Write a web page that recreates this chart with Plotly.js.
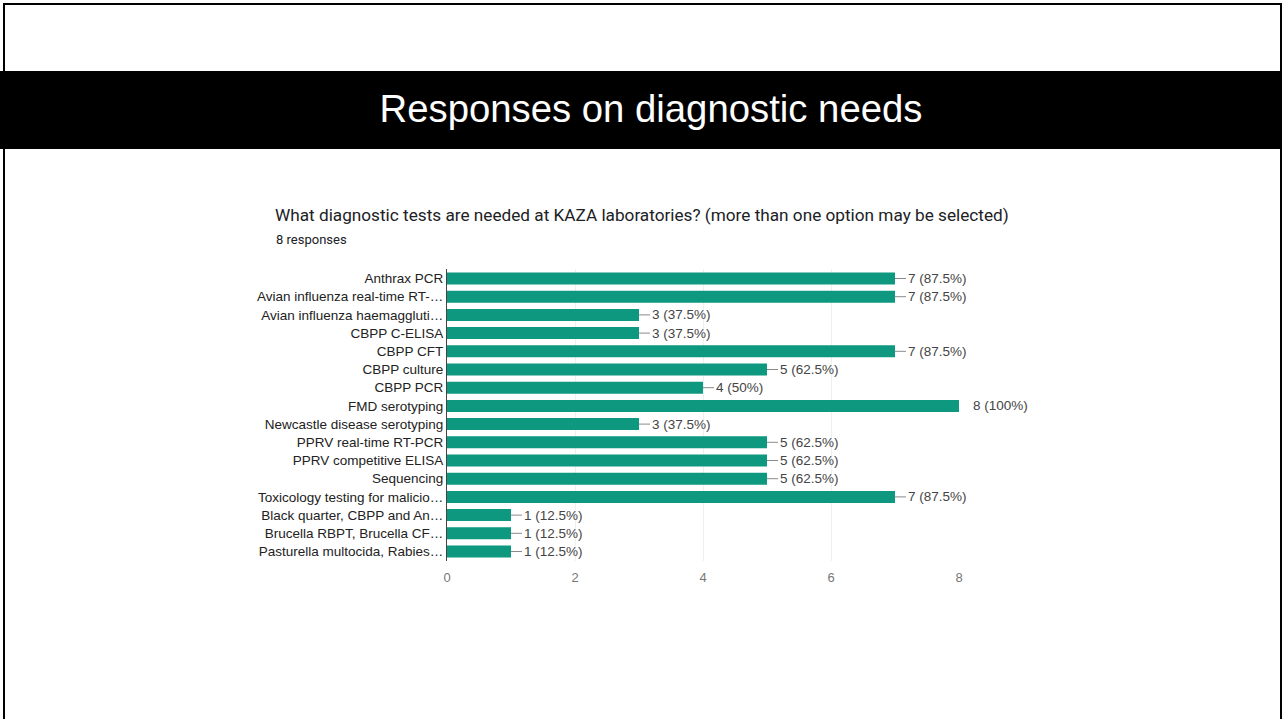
<!DOCTYPE html>
<html>
<head>
<meta charset="utf-8">
<script src="https://cdn.plot.ly/plotly-3.0.1.min.js"></script>
<style>
  html, body { margin: 0; padding: 0; background: #fff; width: 1282px; height: 719px; overflow: hidden; }
  #frame { position: absolute; left: 3px; top: 3px; width: 1275px; height: 800px; border: 2px solid #000; border-bottom: none; }
  #band { position: absolute; left: 0; top: 71px; width: 1282px; height: 78px; background: #000; color: #fff; box-sizing: border-box; padding-left: 20px;
          font-family: "Liberation Sans", Arial, sans-serif; font-size: 38.3px; text-align: center; line-height: 76px; }
  #chart { position: absolute; left: 0; top: 0; width: 1282px; height: 719px; }
</style>
</head>
<body>
<div id="frame"></div>
<div id="band">Responses on diagnostic needs</div>
<div id="chart"></div>
<script>
const categories = [
  "Anthrax PCR",
  "Avian influenza real-time RT-…",
  "Avian influenza haemaggluti…",
  "CBPP C-ELISA",
  "CBPP CFT",
  "CBPP culture",
  "CBPP PCR",
  "FMD serotyping",
  "Newcastle disease serotyping",
  "PPRV real-time RT-PCR",
  "PPRV competitive ELISA",
  "Sequencing",
  "Toxicology testing for malicio…",
  "Black quarter, CBPP and An…",
  "Brucella RBPT, Brucella CF…",
  "Pasturella multocida, Rabies…"
];
const counts = [7, 7, 3, 3, 7, 5, 4, 8, 3, 5, 5, 5, 7, 1, 1, 1];
const percents = ["87.5%", "87.5%", "37.5%", "37.5%", "87.5%", "62.5%", "50%", "100%", "37.5%", "62.5%", "62.5%", "62.5%", "87.5%", "12.5%", "12.5%", "12.5%"];
const xTicks = [0, 2, 4, 6, 8];
const totalResponses = 8;

const maxCount = Math.max(...counts);
const annotations = categories.map((c, i) => ({
  x: counts[i], y: c, xref: 'x', yref: 'y',
  text: counts[i] + ' (' + percents[i] + ')',
  showarrow: true, arrowhead: 0, arrowwidth: 1,
  arrowcolor: counts[i] === maxCount ? 'rgba(0,0,0,0)' : '#8a8a8a',
  ax: counts[i] === maxCount ? 12 : 11, ay: 0,
  xanchor: 'left', yanchor: 'middle',
  font: { family: 'Liberation Sans, Arial, sans-serif', size: 13.5, color: '#444' }
}));
annotations.push({
  xref: 'paper', yref: 'paper', x: (274 - 447) / 512, y: 1 + (269 - 239) / 292,
  xanchor: 'left', yanchor: 'middle', showarrow: false,
  text: totalResponses + ' responses',
  font: { family: 'Roboto, Arial, sans-serif', size: 13, color: '#202124' }
});

const trace = {
  type: 'bar', orientation: 'h',
  y: categories, x: counts,
  marker: { color: '#0d987f' },
  width: 0.66,
  hoverinfo: 'none'
};

const layout = {
  width: 1282, height: 719,
  paper_bgcolor: 'rgba(0,0,0,0)', plot_bgcolor: 'rgba(0,0,0,0)',
  margin: { l: 447, r: 323, t: 269, b: 158, pad: 0 },
  showlegend: false,
  title: {
    text: 'What diagnostic tests are needed at KAZA laboratories? (more than one option may be selected)',
    xref: 'container', yref: 'container', x: 275 / 1282, xanchor: 'left',
    y: 1 - 215 / 719, yanchor: 'middle',
    font: { family: 'Roboto, Arial, sans-serif', size: 17.2, color: '#202124' }
  },
  xaxis: {
    range: [0, 8], tickvals: xTicks, ticktext: xTicks.map(String),
    showgrid: true, gridcolor: '#efefef', gridwidth: 1, zeroline: false,
    showline: false, ticks: '', ticklabelstandoff: 7,
    tickfont: { family: 'Liberation Sans, Arial, sans-serif', size: 13, color: '#777' },
    fixedrange: true
  },
  yaxis: {
    type: 'category', autorange: 'reversed',
    showline: true, linecolor: '#444', linewidth: 1,
    showgrid: false, ticks: '', ticklabelstandoff: 0,
    tickfont: { family: 'Liberation Sans, Arial, sans-serif', size: 13.5, color: '#222' },
    fixedrange: true
  },
  annotations: annotations
};

Plotly.newPlot('chart', [trace], layout, { displayModeBar: false, staticPlot: true });
</script>
</body>
</html>
